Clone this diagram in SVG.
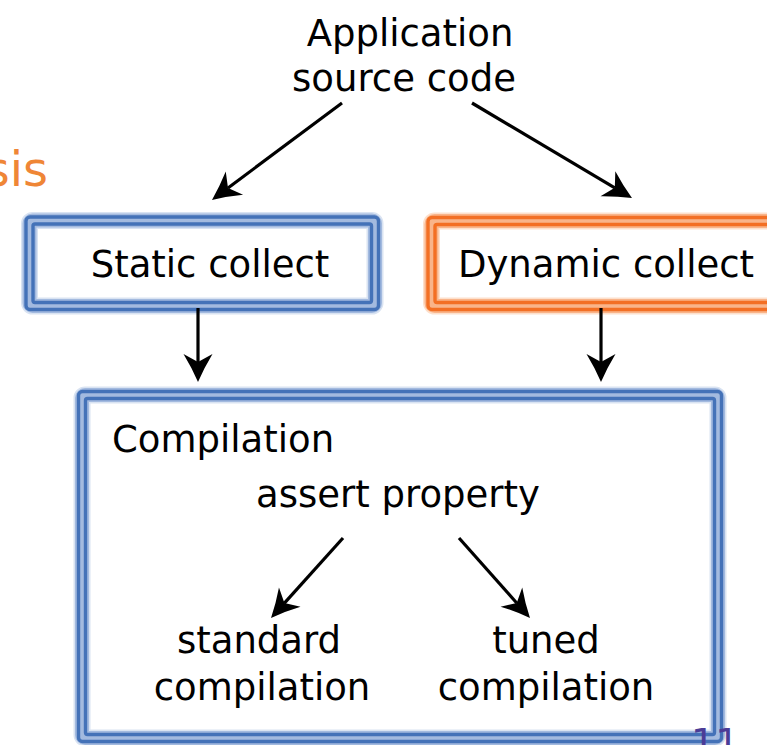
<svg xmlns="http://www.w3.org/2000/svg" width="767" height="745" viewBox="0 0 767 745">
  <style>
    text { font-family: "DejaVu Sans", "Liberation Sans", sans-serif; font-size: 37px; fill: #000; }
    .mid { text-anchor: middle; }
    .title { fill: #ef8636; font-size: 48px; text-anchor: end; }
    .pagenum { fill: #4b3c96; font-size: 38px; }
    .inner { fill: #fff; stroke: none; }
    .b-halo { fill: none; stroke: #d9e3f2; stroke-width: 17; }
    .b-base { fill: none; stroke: #a3badf; stroke-width: 14; }
    .b-dark { fill: none; stroke: #4472b8; stroke-width: 3.4; }
    .o-halo { fill: none; stroke: #fde0cc; stroke-width: 17; }
    .o-base { fill: none; stroke: #f9b48a; stroke-width: 14; }
    .o-dark { fill: none; stroke: #f36f24; stroke-width: 3.4; }
    .conn { stroke: #000; stroke-width: 3.2; fill: none; marker-end: url(#head); }
  </style>
  <defs>
    <marker id="head" markerUnits="userSpaceOnUse" viewBox="-10 -16 32 32" markerWidth="32" markerHeight="32" refX="0" refY="0" orient="auto">
      <path d="M20,0 Q6,-6 -8,-14.5 L0,0 L-8,14.5 Q6,6 20,0 Z" fill="#000"/>
    </marker>
  </defs>

  <rect width="767" height="745" fill="#fff"/>

  <!-- slide title fragment -->
  <text class="title" x="48" y="186">sis</text>

  <g id="source">
    <text class="mid" x="410" y="46">Application</text>
    <text class="mid" x="404" y="91">source code</text>
  </g>

  <g id="static-collect">
    <rect class="inner" x="29.5" y="220.5" width="345.5" height="85.5"/>
    <rect class="b-halo" x="29.5" y="220.5" width="345.5" height="85.5" rx="3"/>
    <rect class="b-base" x="29.5" y="220.5" width="345.5" height="85.5" rx="3"/>
    <rect class="b-dark" x="26" y="217" width="352.5" height="92.5" rx="4"/>
    <rect class="b-dark" x="33" y="224" width="338.5" height="78.5" rx="2"/>
    <text class="mid" x="210" y="277">Static collect</text>
  </g>

  <g id="dynamic-collect">
    <rect class="inner" x="431.5" y="221" width="380" height="85"/>
    <rect class="o-halo" x="431.5" y="221" width="380" height="85" rx="3"/>
    <rect class="o-base" x="431.5" y="221" width="380" height="85" rx="3"/>
    <rect class="o-dark" x="428" y="217.5" width="387" height="92" rx="4"/>
    <rect class="o-dark" x="435" y="224.5" width="373" height="78" rx="2"/>
    <text class="mid" x="606" y="277">Dynamic collect</text>
  </g>

  <g id="compilation">
    <rect class="inner" x="82" y="395" width="636" height="343"/>
    <rect class="b-halo" x="82" y="395" width="636" height="343" rx="3"/>
    <rect class="b-base" x="82" y="395" width="636" height="343" rx="3"/>
    <rect class="b-dark" x="78.5" y="391.5" width="643" height="350" rx="4"/>
    <rect class="b-dark" x="85.5" y="398.5" width="629" height="336" rx="2"/>
    <text x="112" y="452">Compilation</text>
    <g id="assert-property">
      <text class="mid" x="398" y="507">assert property</text>
    </g>
    <g id="standard-compilation">
      <text class="mid" x="259" y="653">standard</text>
      <text class="mid" x="262" y="700">compilation</text>
    </g>
    <g id="tuned-compilation">
      <text class="mid" x="546" y="653">tuned</text>
      <text class="mid" x="546" y="700">compilation</text>
    </g>
  </g>

  <!-- slide number, partly below the bottom edge -->
  <text class="pagenum" x="691" y="755">11</text>

  <g id="connectors">
    <line class="conn" x1="342" y1="103" x2="228" y2="188"/>
    <line class="conn" x1="472" y1="103" x2="614.8" y2="187.8"/>
    <line class="conn" x1="198" y1="308" x2="198" y2="362"/>
    <line class="conn" x1="601" y1="308" x2="601" y2="362"/>
    <line class="conn" x1="343" y1="538" x2="284.4" y2="603.1"/>
    <line class="conn" x1="459" y1="538" x2="516.7" y2="603"/>
  </g>
</svg>
